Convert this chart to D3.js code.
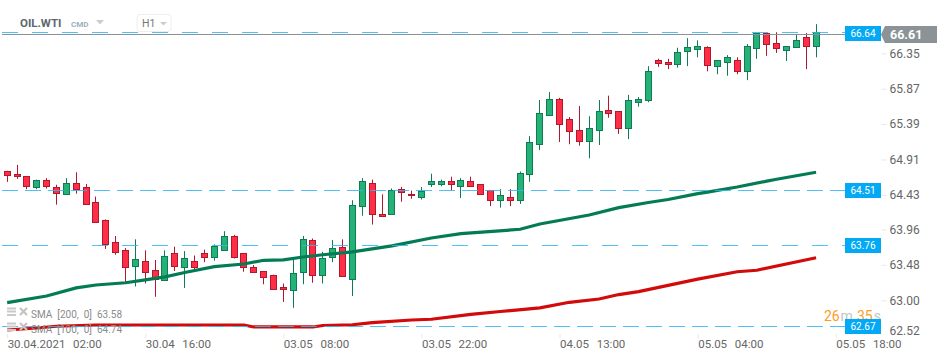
<!DOCTYPE html>
<html><head><meta charset="utf-8">
<style>html,body{margin:0;padding:0;background:#fff}svg{display:block;font-family:Roboto,sans-serif}text{white-space:pre}</style>
<script src="https://cdn.jsdelivr.net/npm/d3@7/dist/d3.min.js"></script></head>
<body><svg id="c" width="950" height="361"></svg>
<script>
const opens=[64.77,64.73,64.70,64.55,64.64,64.55,64.45,64.60,64.55,64.34,64.10,63.80,63.70,63.48,63.55,63.42,63.29,63.66,63.47,63.55,63.66,63.60,63.70,63.89,63.65,63.46,63.41,63.35,63.19,63.15,63.39,63.83,63.36,63.60,63.73,63.30,64.29,64.60,64.19,64.19,64.52,64.46,64.42,64.59,64.59,64.63,64.57,64.63,64.59,64.51,64.38,64.41,64.38,64.72,65.13,65.53,65.74,65.47,65.32,65.18,65.32,65.59,65.58,65.35,65.70,65.73,66.27,66.24,66.22,66.39,66.42,66.45,66.19,66.24,66.28,66.12,66.43,66.64,66.50,66.41,66.45,66.58,66.46];
const highs=[64.77,64.85,64.70,64.65,64.67,64.58,64.67,64.75,64.59,64.42,64.11,63.885,63.72,63.84,63.69,63.56,63.69,63.74,63.68,63.62,63.70,63.77,63.95,63.90,63.65,63.49,63.41,63.36,63.24,63.58,63.885,63.85,63.67,63.83,63.84,64.37,64.67,64.65,64.45,64.53,64.55,64.50,64.55,64.73,64.65,64.69,64.67,64.69,64.59,64.51,64.52,64.52,64.76,65.24,65.73,65.84,65.76,65.50,65.65,65.51,65.73,65.79,65.58,65.80,65.77,66.19,66.29,66.29,66.44,66.57,66.54,66.46,66.27,66.34,66.31,66.49,66.64,66.64,66.65,66.46,66.62,66.64,66.76];
const lows=[64.62,64.66,64.52,64.52,64.53,64.31,64.45,64.46,64.31,64.07,63.71,63.63,63.26,63.20,63.24,63.06,63.29,63.41,63.18,63.41,63.53,63.55,63.70,63.58,63.40,63.40,63.23,63.16,62.99,62.91,63.23,63.25,63.24,63.53,63.34,63.07,64.16,64.04,64.16,64.19,64.35,64.39,64.38,64.55,64.56,64.50,64.40,64.55,64.45,64.29,64.27,64.29,64.32,64.62,65.05,65.53,65.16,65.13,65.11,64.94,65.12,65.49,65.27,65.20,65.64,65.70,66.18,66.15,66.17,66.19,66.31,66.12,66.08,66.06,66.08,66.00,66.29,66.33,66.37,66.26,66.44,66.15,66.31];
const closes=[64.71,64.70,64.56,64.64,64.57,64.47,64.60,64.52,64.32,64.08,63.77,63.67,63.46,63.57,63.40,63.30,63.62,63.48,63.58,63.47,63.60,63.75,63.89,63.60,63.47,63.40,63.33,63.17,63.16,63.38,63.85,63.35,63.58,63.72,63.34,64.30,64.63,64.18,64.16,64.51,64.48,64.44,64.49,64.63,64.63,64.59,64.65,64.57,64.45,64.38,64.44,64.38,64.74,65.16,65.56,65.74,65.41,65.31,65.18,65.35,65.58,65.55,65.35,65.73,65.75,66.12,66.23,66.22,66.38,66.45,66.47,66.20,66.27,66.31,66.12,66.46,66.64,66.49,66.43,66.46,66.55,66.47,66.65];
const smaGreenIdx=[0,4,7,9,12,14,16,18,21,24,26,28,30,32,35,39,43,46,52,54,59,62,65,67,70,71,74,77,78,82];
const smaGreen=[62.98,63.07,63.18,63.22,63.25,63.29,63.33,63.39,63.47,63.505,63.555,63.56,63.60,63.63,63.67,63.75,63.858,63.916,63.976,64.048,64.17,64.27,64.34,64.38,64.46,64.48,64.55,64.63,64.655,64.75];
const smaRedIdx=[0,3,5,9,13,18,24,25,31,32,35,37,41,43,47,50,54,57,60,62,64,70,74,76,82];
const smaRed=[62.609,62.636,62.66,62.677,62.677,62.677,62.677,62.65,62.65,62.67,62.68,62.71,62.745,62.755,62.82,62.86,62.91,62.985,63.03,63.09,63.13,63.30,63.40,63.42,63.59];
const yTicks=[66.35,65.87,65.39,64.91,64.43,63.96,63.48,63.00,62.52];
const xTickIdx=[0,14,28,42,56,70,84];
const xTickLabels=["30.04.2021  02:00","30.04  16:00","03.05  08:00","03.05  22:00","04.05  13:00","05.05  04:00","05.05  18:00"];
const levels=[66.64,64.51,63.76,62.67];
const levelDash=["16 14","16 7","16 14","16 7"];
const lastPrice=66.61;
const legendRows=["SMA  [200,  0]  63.58","SMA  [100,  0]  64.74"];
const countdownParts=["26","m","35","s"];

const svg=d3.select("#c");
const x=d3.scaleLinear().domain([0,84]).range([7.15,835.81]);
const y=d3.scaleLinear().domain([62.67,66.64]).range([325.5,33]);
const yLevel=d3.scaleLinear().domain([62.67,66.64]).range([326.5,32.5]);
const px=i=>Math.floor(x(i))+0.5;
const UP="#25b277",UPS="#0f7c55",DN="#ff2d46",DNS="#b0182e";

// axes
const ya=d3.axisRight(y).tickValues(yTicks).tickSize(5).tickPadding(3).tickFormat(d3.format(".2f"));
const yg=svg.append("g").attr("transform","translate(881.5,-1)").call(ya);
yg.select(".domain").remove();
yg.selectAll(".tick line").attr("stroke","#e8e8e8");
yg.selectAll(".tick text").attr("fill","#666").attr("font-size",12).attr("font-family","Roboto");
yg.selectAll(".tick").filter(d=>d===62.52).attr("transform",`translate(0,${y(62.52)-4.5})`).select("line").remove();

const xa=d3.axisBottom(x).tickValues(xTickIdx).tickSize(4).tickPadding(3).tickFormat((d,i)=>xTickLabels[i]);
const xg=svg.append("g").attr("transform","translate(0,334)").call(xa);
xg.select(".domain").remove();
xg.selectAll(".tick line").attr("stroke","#e8e8e8");
xg.selectAll(".tick text").attr("fill","#666").attr("font-size",11.5).attr("font-family","Roboto").attr("word-spacing",1).attr("text-anchor","start").attr("dy",".65em");

// candles
const idx=d3.range(opens.length);
const col=i=>closes[i]>=opens[i];
const cg=svg.append("g");
cg.selectAll("line.w").data(idx).join("line").attr("class","w")
  .attr("x1",px).attr("x2",px).attr("y1",i=>y(highs[i])).attr("y2",i=>y(lows[i]))
  .attr("stroke",i=>col(i)?UPS:DNS).attr("stroke-width",1);
cg.selectAll("rect").data(idx).join("rect")
  .attr("x",i=>px(i)-3)
  .attr("width",6)
  .attr("y",i=>Math.round(y(Math.max(opens[i],closes[i])))+0.5)
  .attr("height",i=>Math.max(1,Math.round(y(Math.min(opens[i],closes[i])))-Math.round(y(Math.max(opens[i],closes[i])))))
  .attr("fill",i=>col(i)?UP:DN).attr("stroke",i=>col(i)?UPS:DNS).attr("stroke-width",1);

// SMA
const line=d3.line().x(d=>x(d[0])).y(d=>y(d[1]));
svg.append("path").attr("d",line(smaRedIdx.map((d,i)=>[d,smaRed[i]]))).attr("fill","none").attr("stroke","#d20a0a").attr("stroke-width",3.2);
svg.append("path").attr("d",line(smaGreenIdx.map((d,i)=>[d,smaGreen[i]]))).attr("fill","none").attr("stroke","#037c55").attr("stroke-width",3.2);

// price levels
const ly=v=>Math.floor(yLevel(v))+0.5;
svg.append("g").selectAll("line").data(levels).join("line")
  .attr("x1",2).attr("x2",845).attr("y1",ly).attr("y2",ly)
  .attr("stroke","#30b6f3").attr("stroke-opacity",.85).attr("stroke-dasharray",(d,i)=>levelDash[i]);
const ty=ly(lastPrice)-0.1;
svg.append("line").attr("x1",2).attr("x2",845).attr("y1",34.5).attr("y2",34.5).attr("stroke","#8b9397");

// countdown sits under the level tags
const cdX=[824,840.5,857,873.8], cdCol=["#ff9a1f","#c4c4c4","#ff9a1f","#c4c4c4"];
const cd=svg.append("text").attr("y",321).attr("font-size",14);
countdownParts.forEach((p,i)=>cd.append("tspan").attr("x",cdX[i]).attr("fill",cdCol[i]).text(p));

const boxTop=v=>Math.round(y(v))-7;
const lb=svg.append("g").selectAll("g").data(levels).join("g").attr("transform",d=>`translate(845,${boxTop(d)})`);
lb.append("rect").attr("width",36).attr("height",15).attr("fill","#03a9f4");
lb.append("text").attr("x",18).attr("y",11).attr("text-anchor","middle").attr("fill","#fff").attr("font-size",10).text(d=>d.toFixed(2));

// last price tag
svg.append("polygon").attr("points",[[881,34.5],[885,26],[937,26],[937,43],[885,43]].join(" ")).attr("fill","#8b9397");
svg.append("text").attr("x",890).attr("y",39).attr("fill","#fff").attr("font-size",12.5).attr("font-weight",700).text(lastPrice.toFixed(2));

// header
svg.append("text").attr("x",20).attr("y",27).attr("fill","#5c676e").attr("font-size",11.5).attr("font-weight",700).text("OIL.WTI");
svg.append("text").attr("x",71).attr("y",27).attr("fill","#9db0ba").attr("font-size",8).attr("font-weight",700).text("CMD");
svg.append("polygon").attr("points","96,20 104,20 100,24.5").attr("fill","#ccc");
svg.append("rect").attr("x",137).attr("y",14.5).attr("width",34).attr("height",17).attr("rx",3).attr("fill","#fff").attr("stroke","#eee");
svg.append("text").attr("x",142).attr("y",27).attr("fill","#777").attr("font-size",10.5).text("H1");
svg.append("polygon").attr("points","160,22 167,22 163.5,25.5").attr("fill","#ccc");

// legend
const lg=svg.append("g").selectAll("g").data(legendRows).join("g").attr("transform",(d,i)=>`translate(0,${i*15})`);
lg.append("text").attr("x",31).attr("y",318).attr("fill","#8a8a8a").attr("font-size",10).text(d=>d);
[307.5,310.5,314].forEach(yy=>lg.append("rect").attr("x",7).attr("y",yy).attr("width",9).attr("height",2).attr("fill","#c9c9c9"));
lg.append("path").attr("d","M20,308 L27,315 M27,308 L20,315").attr("stroke","#c4c4c4").attr("stroke-width",2.2);
</script></body></html>
